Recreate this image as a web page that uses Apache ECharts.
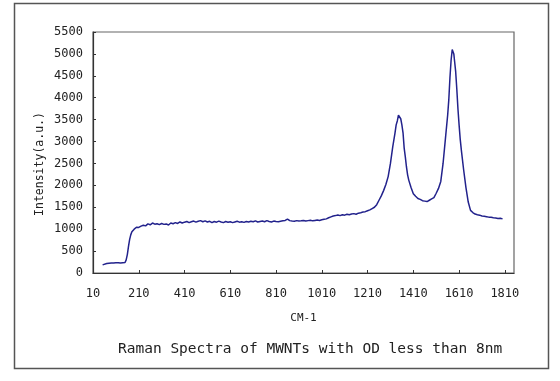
<!DOCTYPE html>
<html>
<head>
<meta charset="utf-8">
<script src="https://cdn.jsdelivr.net/npm/echarts@6/dist/echarts.min.js"></script>
<style>html,body{margin:0;padding:0;background:#fff}#c{width:560px;height:381px}</style>
</head>
<body>
<div id="c"></div>
<script>
// wavenumber (cm-1)
var wavenumbers = [52,60,70,80,90,100,110,120,130,140,150,155,160,165,170,175,180,185,190,195,200,210,220,230,240,250,260,270,280,290,300,310,320,330,340,350,360,370,380,390,400,410,420,430,440,450,460,470,480,490,500,510,520,530,540,550,560,570,580,590,600,610,620,630,640,650,660,670,680,690,700,710,720,730,740,750,760,770,780,790,800,810,820,830,840,850,860,870,880,890,900,910,920,930,940,950,960,970,980,990,1000,1010,1020,1030,1040,1050,1060,1070,1080,1090,1100,1110,1120,1130,1140,1150,1160,1170,1180,1190,1200,1210,1220,1230,1240,1250,1260,1270,1280,1290,1300,1310,1320,1330,1335,1340,1345,1350,1355,1360,1365,1370,1375,1380,1385,1390,1400,1410,1420,1430,1440,1450,1460,1470,1480,1490,1500,1510,1520,1530,1540,1550,1560,1565,1570,1575,1580,1583,1587,1590,1595,1600,1605,1610,1615,1620,1630,1640,1650,1660,1670,1680,1690,1700,1710,1720,1730,1740,1750,1760,1770,1780,1790,1800];
// intensity (a.u.)
var intensities = [185,200,215,225,230,228,232,235,230,236,240,300,420,600,760,870,940,985,1000,1020,1045,1040,1070,1090,1075,1120,1100,1140,1115,1125,1105,1130,1110,1120,1095,1140,1125,1150,1130,1165,1140,1160,1175,1150,1170,1185,1160,1180,1195,1170,1190,1165,1180,1150,1175,1160,1185,1165,1150,1175,1160,1170,1150,1165,1180,1160,1170,1155,1175,1165,1180,1170,1190,1165,1175,1185,1170,1195,1175,1165,1185,1175,1170,1180,1190,1200,1230,1195,1185,1180,1195,1185,1190,1200,1185,1195,1205,1190,1200,1210,1200,1215,1225,1235,1260,1280,1300,1310,1325,1310,1330,1320,1340,1330,1345,1355,1340,1365,1375,1390,1400,1420,1440,1470,1500,1560,1660,1760,1880,2020,2200,2500,2880,3200,3380,3470,3600,3610,3520,3380,3200,2850,2650,2420,2240,2120,1950,1810,1750,1700,1680,1650,1640,1630,1660,1690,1720,1820,1930,2090,2500,3050,3600,3950,4450,4850,5100,5130,5000,4850,4600,4200,3750,3380,3050,2800,2350,1950,1620,1430,1380,1345,1330,1320,1300,1295,1285,1275,1270,1260,1255,1245,1250,1235];
var xTickLabels = [10,210,410,610,810,1010,1210,1410,1610,1810];
var yTickLabels = [0,500,1000,1500,2000,2500,3000,3500,4000,4500,5000,5500];

var data = wavenumbers.map(function(w,i){return [w, intensities[i]];});
var chart = echarts.init(document.getElementById('c'));
var mono = 'DejaVu Sans Mono';
chart.setOption({
  backgroundColor: '#fff',
  animation: false,
  title: {
    text: 'Raman Spectra of MWNTs with OD less than 8nm',
    left: 113, top: 337,
    textStyle: {fontFamily: mono, fontSize: 14.5, fontWeight: 'normal', color: '#222'}
  },
  grid: {left: 93, right: 46, top: 32, bottom: 108, show: true, borderColor: '#666', borderWidth: 1.2},
  xAxis: {
    type: 'value', min: 10, max: 1850,
    name: 'CM-1', nameLocation: 'middle', nameGap: 40,
    nameTextStyle: {fontFamily: mono, fontSize: 11, color: '#222'},
    axisLine: {lineStyle: {color: '#333', width: 1.2}},
    axisTick: {inside: true, length: 3, customValues: xTickLabels, lineStyle: {color: '#333'}},
    axisLabel: {customValues: xTickLabels, fontFamily: mono, fontSize: 12, color: '#222', margin: 15,
      formatter: function(v){return String(v);}},
    splitLine: {show: false}
  },
  yAxis: {
    type: 'value', min: 0, max: 5500, interval: 500,
    axisLine: {show: true, lineStyle: {color: '#333', width: 1.2}},
    axisTick: {show: true, inside: true, length: 3, customValues: yTickLabels, lineStyle: {color: '#333'}},
    axisLabel: {customValues: yTickLabels, fontFamily: mono, fontSize: 12, color: '#222', margin: 10,
      formatter: function(v){return String(v);}},
    splitLine: {show: false}
  },
  graphic: [
    {type: 'rect', left: 12, top: 1, shape: {width: 534, height: 365}, style: {fill: 'none', stroke: '#555', lineWidth: 1.5}, silent: true},
    {type: 'text', x: 40, y: 164, rotation: Math.PI/2, style: {text: 'Intensity(a.u.)', font: '11.5px "DejaVu Sans Mono"', fill: '#222', textAlign: 'center', textVerticalAlign: 'middle'}}
  ],
  series: [{
    type: 'line', data: data, showSymbol: false, smooth: false,
    lineStyle: {color: '#22228c', width: 1.5}
  }]
});
</script>
</body>
</html>
